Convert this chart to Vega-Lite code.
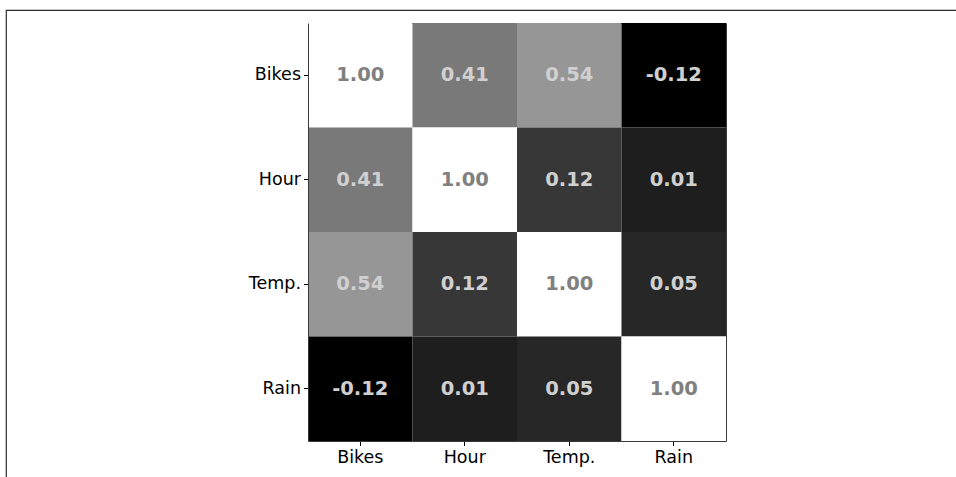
{
  "$schema": "https://vega.github.io/schema/vega-lite/v6.json",
  "width": 955,
  "height": 475,
  "autosize": {"type": "none"},
  "padding": {"left": 6, "top": 10, "right": 0, "bottom": 0},
  "background": "white",
  "config": {
    "locale": {"number": {"decimal": ".", "thousands": ",", "grouping": [3], "currency": ["$", ""], "minus": "-"}},
    "view": {"stroke": "#2b2b2b", "strokeWidth": 1.2},
    "font": "DejaVu Sans",
    "axis": {
      "labelFont": "DejaVu Sans",
      "labelFontSize": 17.5,
      "labelColor": "#000000",
      "tickColor": "#000000",
      "tickSize": 4.5,
      "tickWidth": 1,
      "labelPadding": 3,
      "domain": true,
      "domainColor": "#3a3a3a",
      "domainWidth": 1,
      "grid": false,
      "title": null
    }
  },
  "data": {
    "values": [
      {"row": "Bikes", "col": "Bikes", "r": 1.00},
      {"row": "Bikes", "col": "Hour", "r": 0.41},
      {"row": "Bikes", "col": "Temp.", "r": 0.54},
      {"row": "Bikes", "col": "Rain", "r": -0.12},
      {"row": "Hour", "col": "Bikes", "r": 0.41},
      {"row": "Hour", "col": "Hour", "r": 1.00},
      {"row": "Hour", "col": "Temp.", "r": 0.12},
      {"row": "Hour", "col": "Rain", "r": 0.01},
      {"row": "Temp.", "col": "Bikes", "r": 0.54},
      {"row": "Temp.", "col": "Hour", "r": 0.12},
      {"row": "Temp.", "col": "Temp.", "r": 1.00},
      {"row": "Temp.", "col": "Rain", "r": 0.05},
      {"row": "Rain", "col": "Bikes", "r": -0.12},
      {"row": "Rain", "col": "Hour", "r": 0.01},
      {"row": "Rain", "col": "Temp.", "r": 0.05},
      {"row": "Rain", "col": "Rain", "r": 1.00}
    ]
  },
  "resolve": {"axis": {"x": "independent", "y": "independent"}},
  "layer": [
    {
      "mark": {"type": "rect", "strokeWidth": 0},
      "encoding": {
        "x": {"field": "col", "type": "ordinal", "sort": ["Bikes", "Hour", "Temp.", "Rain"], "scale": {"paddingInner": 0, "paddingOuter": 0, "range": [302, 720]}, "axis": {"labelAngle": 0, "orient": "bottom", "offset": -44}},
        "y": {"field": "row", "type": "ordinal", "sort": ["Bikes", "Hour", "Temp.", "Rain"], "scale": {"paddingInner": 0, "paddingOuter": 0, "range": [13, 431]}, "axis": {"orient": "left", "offset": -302}},
        "color": {"field": "r", "type": "quantitative", "scale": {"domain": [-0.12, 1.0], "range": ["#000000", "#ffffff"], "interpolate": "rgb"}, "legend": null}
      }
    },
    {
      "mark": {"type": "text", "font": "DejaVu Sans", "fontWeight": "bold", "fontSize": 19.5, "baseline": "middle", "align": "center"},
      "encoding": {
        "x": {"field": "col", "type": "ordinal", "sort": ["Bikes", "Hour", "Temp.", "Rain"], "axis": {"orient": "top", "offset": -13, "labels": false, "ticks": false}},
        "y": {"field": "row", "type": "ordinal", "sort": ["Bikes", "Hour", "Temp.", "Rain"], "axis": {"orient": "right", "offset": -235, "labels": false, "ticks": false}},
        "text": {"field": "r", "type": "quantitative", "format": ".2f"},
        "color": {"condition": {"test": "datum.r >= 0.99", "value": "#808080"}, "value": "#d0d0d0"}
      }
    }
  ]
}
